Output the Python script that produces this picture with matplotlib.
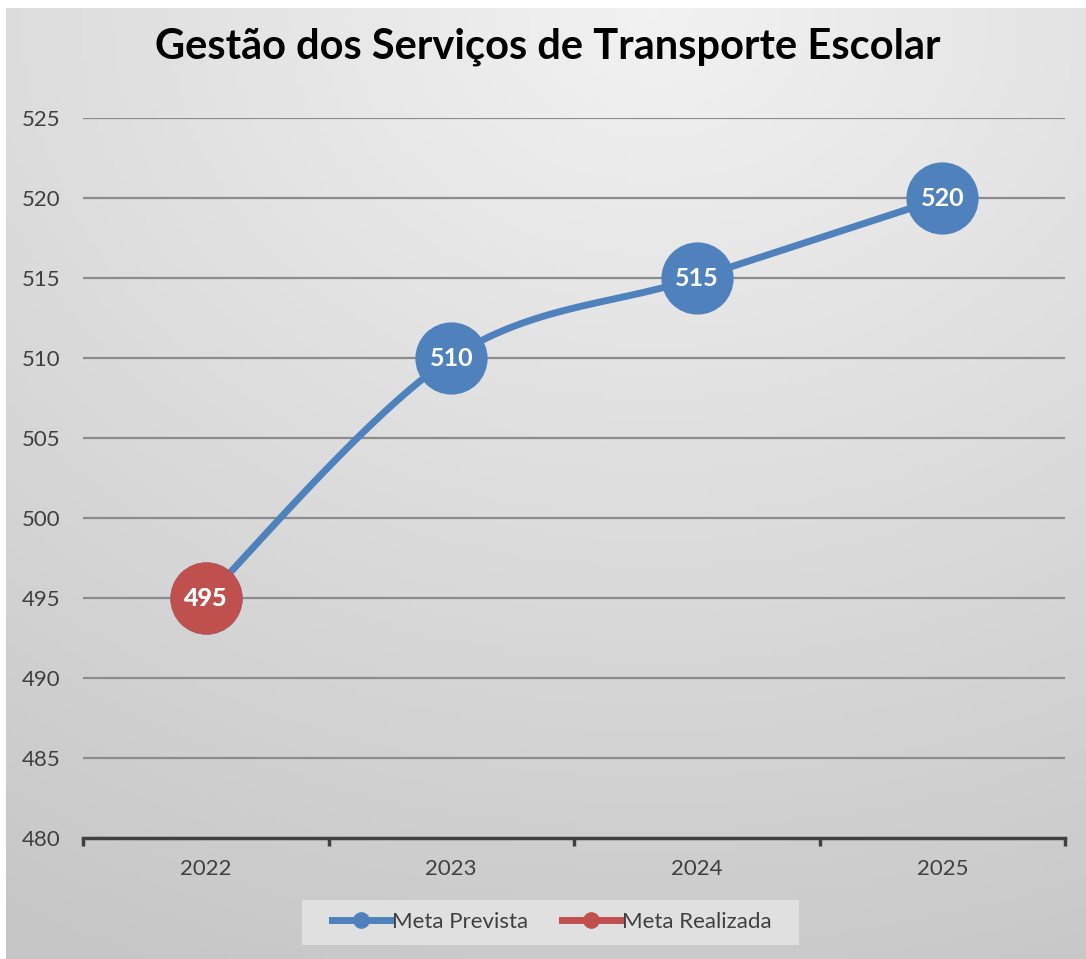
import numpy as np
import matplotlib
matplotlib.use("Agg")
import matplotlib.pyplot as plt
from matplotlib.lines import Line2D
from matplotlib.patches import Rectangle

plt.rcParams['font.family'] = ['Lato', 'DejaVu Sans']

title = "Gestão dos Serviços de Transporte Escolar"
years = ["2022", "2023", "2024", "2025"]
meta_prevista = [495, 510, 515, 520]
meta_realizada = [495]
yticks = [480, 485, 490, 495, 500, 505, 510, 515, 520, 525]

blue = "#4f81bd"
red = "#c0504d"

W, H = 1086, 959
fig = plt.figure(figsize=(W / 100, H / 100), dpi=100)
fig.patch.set_facecolor("white")

# background gradient panel
bg = fig.add_axes([6 / W, 0, 1 - 6 / W, 1 - 8 / H])
bg.set_axis_off()
yy, xx = np.mgrid[0:1:200j, 0:1:200j]
dist = np.sqrt(((xx - 0.6) * 1.0) ** 2 + ((yy - 1.0) * 1.1) ** 2)
val = 0.95 - 0.17 * np.clip(dist, 0, 1.2) / 1.2
bg.imshow(np.dstack([val, val, val]), extent=[0, 1, 0, 1], origin="lower", aspect="auto", zorder=0)
bg.set_xlim(0, 1)
bg.set_ylim(0, 1)

ax = fig.add_axes([83 / W, 1 - 838 / H, (1065 - 83) / W, (838 - 118) / H])
ax.patch.set_alpha(0)
x = np.arange(len(years))
ax.set_xlim(-0.5, len(years) - 0.5)
ax.set_ylim(480, 525)

for s in ["top", "right", "left"]:
    ax.spines[s].set_visible(False)
ax.spines["bottom"].set_color("#404040")
ax.spines["bottom"].set_linewidth(2.5)

ax.set_yticks(yticks)
ax.set_yticklabels([str(v) for v in yticks], fontsize=16, color="#404040")
ax.tick_params(axis="y", length=0, pad=16)
for v in yticks[1:]:
    ax.axhline(v, color="#8c8c8c", lw=1.6, zorder=1)

ax.set_xticks(x)
ax.set_xticklabels(years, fontsize=16, color="#404040")
ax.tick_params(axis="x", length=0, pad=15)
ax.set_xticks(np.arange(-0.5, len(years)), minor=True)
ax.tick_params(axis="x", which="minor", length=6, width=2.5, color="#404040")

# smooth line (Excel-style Bezier smoothing)
def smooth(px, py, n=40):
    px = np.asarray(px, float); py = np.asarray(py, float)
    P = np.column_stack([px, py])
    out = []
    for i in range(len(P) - 1):
        p0 = P[i - 1] if i > 0 else P[i]
        p1 = P[i]; p2 = P[i + 1]
        p3 = P[i + 2] if i + 2 < len(P) else P[i + 1]
        c1 = p1 + (p2 - p0) / 6
        c2 = p2 - (p3 - p1) / 6
        t = np.linspace(0, 1, n)[:, None]
        seg = (1 - t) ** 3 * p1 + 3 * (1 - t) ** 2 * t * c1 + 3 * (1 - t) * t ** 2 * c2 + t ** 3 * p2
        out.append(seg)
    return np.vstack(out)

curve = smooth(x, meta_prevista)
ax.plot(curve[:, 0], curve[:, 1], color=blue, lw=5, zorder=3, solid_capstyle="round")
ax.plot(x, meta_prevista, "o", color=blue, ms=51, zorder=4)
ax.plot(x[:len(meta_realizada)], meta_realizada, "o", color=red, ms=51, zorder=5)

for xi, v in zip(x, meta_prevista):
    ax.text(xi, v, str(v), ha="center", va="center", color="white", fontsize=18, fontweight="bold", zorder=6)
for xi, v in zip(x, meta_realizada):
    ax.text(xi, v, str(v), ha="center", va="center", color="white", fontsize=18, fontweight="bold", zorder=7)

fig.text(548 / W, 1 - 47 / H, title, ha="center", va="center", fontsize=30, fontweight="bold", color="black")

# legend box
fig.patches.append(Rectangle((302 / W, 1 - 945 / H), (799 - 302) / W, 45 / H,
                             transform=fig.transFigure, facecolor="#e0e0e0",
                             edgecolor="none", zorder=1))
handles = [Line2D([], [], color=blue, lw=5, marker="o", ms=11),
           Line2D([], [], color=red, lw=5, marker="o", ms=11)]
leg = fig.legend(handles, ["Meta Prevista", "Meta Realizada"], loc="center",
                 bbox_to_anchor=(552 / W, 1 - 922 / H), ncol=2, frameon=False,
                 fontsize=16, handlelength=2.6, handletextpad=0.1, columnspacing=1.5)
for t in leg.get_texts():
    t.set_color("#404040")

fig.savefig("out.png", dpi=100)
